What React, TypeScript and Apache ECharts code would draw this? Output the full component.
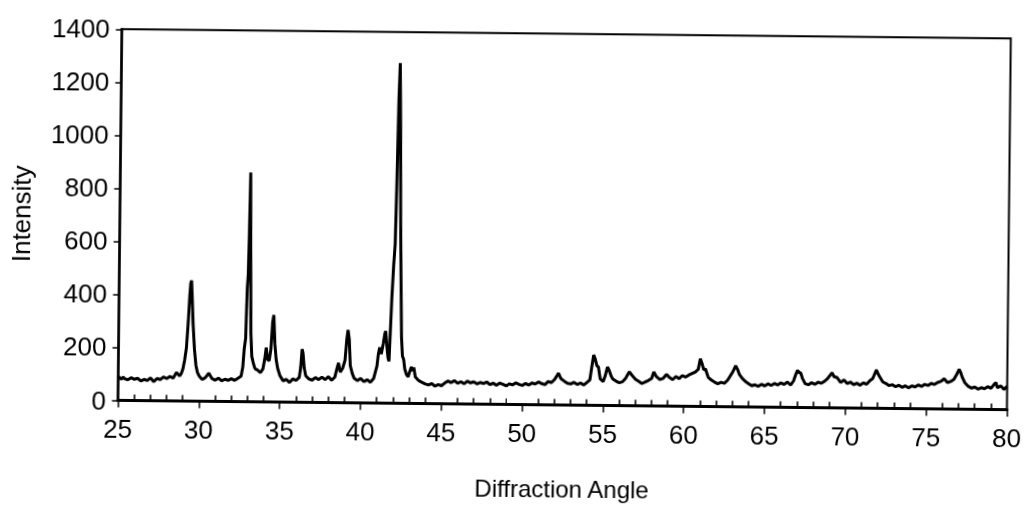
import { useEffect, useRef } from "react";
import * as echarts from "echarts";

const X_MIN = 25;
const X_MAX = 80;
const X_STEP = 5;
const Y_MIN = 0;
const Y_MAX = 1400;
const Y_STEP = 200;
const X_TITLE = "Diffraction Angle";
const Y_TITLE = "Intensity";

type Pt = [number, number];

const scan25to30: Pt[] = [
  [25.0, 92], [25.1, 84], [25.2, 80], [25.3, 88], [25.4, 82], [25.6, 78], [25.8, 86], [26.0, 80],
  [26.2, 84], [26.4, 74], [26.6, 80], [26.8, 76], [27.0, 86], [27.2, 72], [27.4, 84], [27.6, 80],
  [27.8, 90], [28.0, 84], [28.2, 92], [28.4, 86], [28.6, 108], [28.8, 94], [28.9, 104], [29.0, 122],
  [29.1, 155], [29.2, 200], [29.3, 300], [29.38, 400], [29.43, 445], [29.48, 455], [29.53, 390],
  [29.6, 290], [29.7, 195], [29.8, 135], [29.9, 108], [30.0, 96],
];

const scan30to35: Pt[] = [
  [30.1, 88], [30.2, 82], [30.4, 90], [30.6, 106], [30.7, 96], [30.8, 86], [31.0, 80], [31.2, 88],
  [31.4, 78], [31.6, 84], [31.8, 80], [32.0, 86], [32.2, 80], [32.4, 88], [32.6, 96], [32.7, 130],
  [32.78, 200], [32.86, 240], [32.93, 430], [32.98, 480], [33.02, 620], [33.07, 865], [33.12, 560],
  [33.18, 260], [33.25, 170], [33.33, 150], [33.45, 125], [33.6, 120], [33.8, 110], [33.95, 125],
  [34.05, 160], [34.14, 205], [34.23, 160], [34.33, 155], [34.43, 200], [34.52, 300], [34.59, 328],
  [34.67, 220], [34.76, 160], [34.86, 126], [35.0, 100],
];

const scan35to40: Pt[] = [
  [35.1, 90], [35.2, 80], [35.4, 86], [35.6, 74], [35.8, 88], [36.0, 82], [36.2, 94], [36.28, 130],
  [36.36, 200], [36.42, 185], [36.5, 130], [36.6, 100], [36.8, 88], [37.0, 84], [37.2, 94],
  [37.4, 86], [37.6, 96], [37.8, 86], [38.0, 98], [38.2, 84], [38.4, 96], [38.53, 130], [38.62, 150],
  [38.73, 115], [38.88, 130], [39.02, 160], [39.12, 240], [39.19, 275], [39.27, 240], [39.35, 140],
  [39.48, 110], [39.6, 92], [39.8, 84], [40.0, 92],
];

const scan40to45: Pt[] = [
  [40.2, 80], [40.4, 88], [40.6, 78], [40.8, 92], [41.0, 140], [41.08, 185], [41.16, 210],
  [41.26, 185], [41.38, 225], [41.47, 262], [41.52, 272], [41.6, 215], [41.68, 170], [41.74, 158],
  [41.8, 260], [41.88, 400], [41.97, 520], [42.05, 600], [42.12, 850], [42.19, 1150], [42.25, 1283],
  [42.31, 1050], [42.37, 700], [42.43, 480], [42.5, 250], [42.57, 178], [42.65, 165], [42.72, 130],
  [42.82, 110], [42.93, 100], [43.03, 120], [43.13, 138], [43.21, 122], [43.28, 136], [43.38, 100],
  [43.5, 92], [43.6, 86], [43.8, 80], [44.0, 74], [44.2, 70], [44.4, 76], [44.6, 66], [44.8, 72],
  [45.0, 68],
];

const scan45to55: Pt[] = [
  [45.2, 78], [45.4, 86], [45.6, 80], [45.8, 88], [46.0, 78], [46.2, 84], [46.4, 76], [46.6, 86],
  [46.8, 80], [47.0, 84], [47.2, 76], [47.4, 82], [47.6, 78], [47.8, 84], [48.0, 74], [48.2, 80],
  [48.4, 72], [48.6, 80], [48.8, 76], [49.0, 70], [49.2, 78], [49.4, 74], [49.6, 82], [49.8, 76],
  [50.0, 72], [50.2, 80], [50.4, 74], [50.6, 82], [50.8, 78], [51.0, 86], [51.2, 80], [51.4, 76],
  [51.6, 88], [51.8, 84], [52.0, 96], [52.12, 108], [52.23, 120], [52.38, 100], [52.6, 90],
  [52.8, 82], [53.0, 80], [53.2, 86], [53.4, 78], [53.6, 84], [53.8, 76], [54.0, 86], [54.18, 96],
  [54.28, 140], [54.4, 190], [54.5, 175], [54.6, 150], [54.7, 145], [54.82, 100], [55.0, 90],
];

const scan55to65: Pt[] = [
  [55.12, 110], [55.26, 145], [55.37, 132], [55.5, 110], [55.6, 100], [55.8, 92], [56.0, 86],
  [56.2, 90], [56.4, 104], [56.52, 118], [56.62, 128], [56.78, 115], [57.0, 100], [57.2, 92],
  [57.4, 84], [57.6, 90], [57.8, 96], [58.0, 104], [58.13, 128], [58.28, 112], [58.5, 100],
  [58.7, 104], [58.92, 120], [59.1, 108], [59.3, 100], [59.5, 112], [59.7, 104], [59.9, 116],
  [60.1, 110], [60.3, 118], [60.5, 124], [60.7, 130], [60.88, 140], [61.0, 180], [61.12, 160],
  [61.22, 138], [61.32, 142], [61.5, 110], [61.7, 100], [61.9, 92], [62.1, 86], [62.3, 92],
  [62.5, 88], [62.7, 100], [62.88, 118], [63.02, 132], [63.19, 155], [63.32, 140], [63.43, 122],
  [63.6, 108], [63.8, 96], [64.0, 88], [64.2, 80], [64.4, 84], [64.6, 78], [64.8, 86], [65.0, 80],
];

const scan65to80: Pt[] = [
  [65.2, 88], [65.4, 82], [65.6, 90], [65.8, 84], [66.0, 92], [66.2, 86], [66.4, 96], [66.6, 84],
  [66.78, 100], [66.9, 122], [67.02, 140], [67.12, 132], [67.22, 130], [67.33, 110], [67.5, 90],
  [67.7, 86], [67.9, 94], [68.1, 88], [68.3, 96], [68.5, 92], [68.7, 100], [68.88, 110],
  [69.03, 122], [69.16, 132], [69.28, 118], [69.48, 114], [69.7, 96], [69.9, 106], [70.1, 92],
  [70.3, 98], [70.5, 88], [70.7, 94], [70.9, 86], [71.1, 96], [71.3, 90], [71.5, 104], [71.68, 112],
  [71.9, 145], [72.02, 128], [72.12, 118], [72.3, 100], [72.5, 94], [72.7, 86], [72.9, 90],
  [73.1, 82], [73.3, 88], [73.5, 80], [73.7, 86], [73.9, 78], [74.1, 86], [74.3, 82], [74.5, 90],
  [74.7, 84], [74.9, 92], [75.1, 88], [75.3, 96], [75.5, 92], [75.7, 100], [75.9, 104], [76.1, 114],
  [76.3, 100], [76.5, 104], [76.7, 112], [76.88, 132], [77.02, 150], [77.12, 138], [77.22, 120],
  [77.38, 100], [77.6, 86], [77.8, 80], [78.0, 84], [78.2, 76], [78.4, 82], [78.6, 78], [78.8, 86],
  [79.0, 80], [79.2, 96], [79.3, 102], [79.4, 82], [79.6, 90], [79.8, 76], [80.0, 88],
];

const FONT = '"Liberation Sans", Arial, sans-serif';

export default function App() {
  const ref = useRef<HTMLDivElement>(null);

  useEffect(() => {
    if (!ref.current) return;
    const chart = echarts.init(ref.current, undefined, { renderer: "svg" });
    const data = [
      ...scan25to30,
      ...scan30to35,
      ...scan35to40,
      ...scan40to45,
      ...scan45to55,
      ...scan55to65,
      ...scan65to80,
    ];
    chart.setOption({
      animation: false,
      backgroundColor: "#ffffff",
      grid: {
        left: 119.5,
        right: 20.5,
        top: 33.3,
        bottom: 107.5,
        show: true,
        borderColor: "#000",
        borderWidth: 2,
        backgroundColor: "transparent",
        containLabel: false,
        outerBoundsMode: "none",
      },
      xAxis: [
        {
          type: "value",
          min: X_MIN,
          max: X_MAX,
          interval: X_STEP,
          position: "bottom",
          name: X_TITLE,
          nameLocation: "middle",
          nameGap: 72,
          nameTextStyle: { color: "#000", fontSize: 24, fontFamily: FONT },
          axisLine: { show: true, onZero: false, lineStyle: { color: "#000", width: 3 } },
          axisTick: { show: true, length: 7, inside: false, lineStyle: { color: "#000", width: 1.5 } },
          axisLabel: { color: "#000", fontSize: 26, fontFamily: FONT, margin: 15 },
          splitLine: { show: false },
        },
        {
          type: "value",
          min: X_MIN,
          max: X_MAX,
          interval: X_STEP,
          position: "bottom",
          axisLine: { show: false, onZero: false },
          axisTick: { show: true, inside: true, length: 0.1, lineStyle: { color: "#000", opacity: 0, width: 0.1 } },
          minorTick: { show: true, splitNumber: 5, length: 6, lineStyle: { color: "#000", width: 1.6 } },
          axisLabel: { show: false },
          splitLine: { show: false },
        },
      ],
      yAxis: {
        type: "value",
        min: Y_MIN,
        max: Y_MAX,
        interval: Y_STEP,
        name: Y_TITLE,
        nameLocation: "middle",
        nameGap: 86,
        nameTextStyle: { color: "#000", fontSize: 26, fontFamily: FONT },
        axisLine: { show: true, lineStyle: { color: "#000", width: 2.5 } },
        axisTick: { show: true, length: 6, lineStyle: { color: "#000", width: 1.5 } },
        axisLabel: {
          color: "#000",
          fontSize: 26,
          fontFamily: FONT,
          margin: 12,
          formatter: (v: number) => String(v),
        },
        splitLine: { show: false },
      },
      series: [
        {
          type: "line",
          xAxisIndex: 0,
          data,
          showSymbol: false,
          lineStyle: { color: "#000", width: 3 },
          silent: true,
        },
      ],
    });
    return () => chart.dispose();
  }, []);

  return (
    <div
      ref={ref}
      style={{
        position: "fixed",
        left: 0,
        top: 0,
        width: 1029,
        height: 512,
        background: "#fff",
        transform: "rotate(0.6deg)",
        transformOrigin: "50% 50%",
      }}
    />
  );
}
